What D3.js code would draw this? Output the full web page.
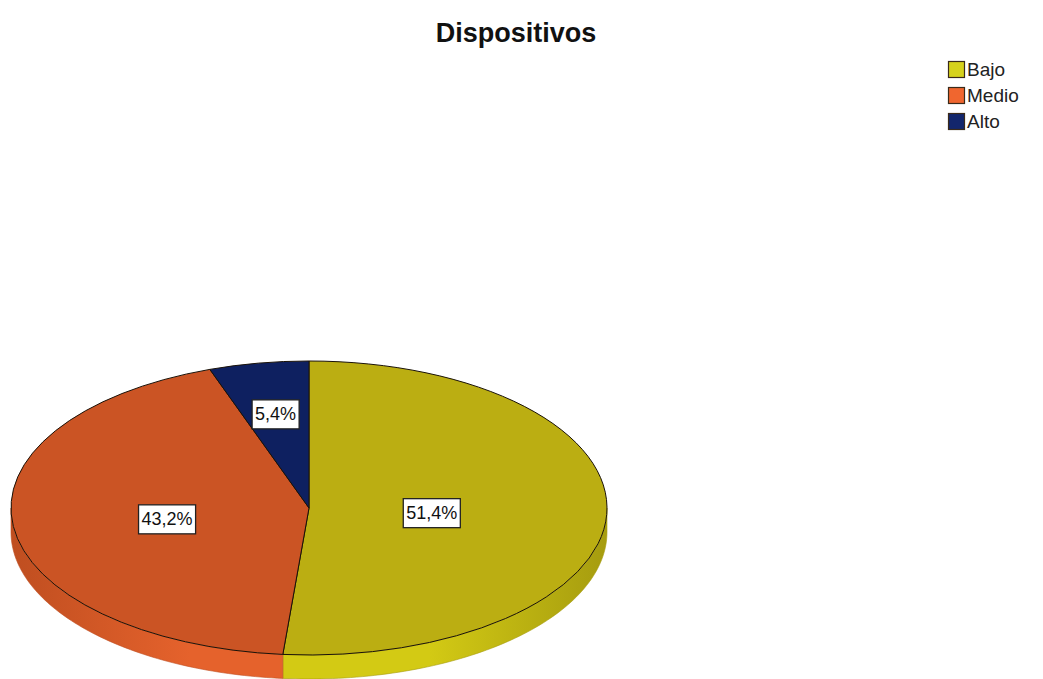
<!DOCTYPE html>
<html><head><meta charset="utf-8">
<script src="https://cdn.jsdelivr.net/npm/d3@7"></script>
<style>html,body{margin:0;padding:0;background:#fff;overflow:hidden}</style>
</head><body>
<svg id="chart" width="1043" height="679"></svg>
<script>
const title = "Dispositivos";
const categories = ["Bajo", "Medio", "Alto"];
const values = [51.4, 43.2, 5.4];
const labels = ["51,4%", "43,2%", "5,4%"];
const topColors = ["#bbae12", "#cb5424", "#0e2060"];
const sideColors = ["#d3ca14", "#e5622c", "#14276e"];
const sideDark = ["#a69c0f", "#bf4e20", "#0a1848"];
const legendColors = ["#d6d21c", "#f0662f", "#13266c"];

const svg = d3.select("#chart");
const W = 1043, H = 679;
const cx = 309, cy = 508, rx = 298, ry = 147, depth = 24;
const FONT = "'Liberation Sans', Arial, sans-serif";

svg.append("rect").attr("width", W).attr("height", H).attr("fill", "#fff");

svg.append("text").attr("x", 516).attr("y", 42).attr("text-anchor", "middle")
  .attr("font-family", FONT).attr("font-weight", "bold").attr("font-size", 27)
  .attr("fill", "#111").text(title);

const pie = d3.pie().sort(null).value(d => d)(values);
const pt = a => [cx + rx * Math.sin(a), cy - ry * Math.cos(a)];

const defs = svg.append("defs");
const g = svg.append("g");
pie.forEach((p, i) => {
  const a0 = Math.max(p.startAngle, Math.PI / 2), a1 = Math.min(p.endAngle, 3 * Math.PI / 2);
  if (a1 <= a0) return;
  const n = 80;
  const top = d3.range(n + 1).map(k => pt(a0 + (a1 - a0) * k / n));
  const bot = top.slice().reverse().map(([x, y]) => [x, y + depth]);
  const gid = "side" + i;
  const gr = defs.append("linearGradient").attr("id", gid)
    .attr("gradientUnits", "userSpaceOnUse")
    .attr("x1", cx - rx).attr("x2", cx + rx).attr("y1", 0).attr("y2", 0);
  gr.append("stop").attr("offset", "0%").attr("stop-color", sideDark[i]);
  gr.append("stop").attr("offset", "30%").attr("stop-color", sideColors[i]);
  gr.append("stop").attr("offset", "70%").attr("stop-color", sideColors[i]);
  gr.append("stop").attr("offset", "100%").attr("stop-color", sideDark[i]);
  g.append("path").attr("d", d3.line()(top.concat(bot)) + "Z")
    .attr("fill", `url(#${gid})`).attr("stroke", sideDark[i]).attr("stroke-width", 0.6);
});

const arc = d3.arc().innerRadius(0).outerRadius(rx);
const topG = svg.append("g").attr("transform", `translate(${cx},${cy}) scale(1,${ry / rx})`);
topG.selectAll("path").data(pie).join("path")
  .attr("d", arc)
  .attr("fill", (d, i) => topColors[i])
  .attr("stroke", "#1a1208").attr("stroke-width", 1)
  .attr("vector-effect", "non-scaling-stroke");

pie.forEach((p, i) => {
  const alpha = p.endAngle - p.startAngle;
  const mid = (p.startAngle + p.endAngle) / 2;
  const r = (2 / 3) * Math.sin(alpha / 2) / (alpha / 2);
  const x = cx + rx * r * Math.sin(mid), y = cy - ry * r * Math.cos(mid) + 2;
  const lg = svg.append("g");
  const t = lg.append("text").attr("x", x).attr("y", y + 6).attr("text-anchor", "middle")
    .attr("font-family", FONT).attr("font-size", 18).attr("fill", "#111").text(labels[i]);
  const bb = t.node().getBBox();
  lg.insert("rect", "text").attr("x", bb.x - 3).attr("y", y - 14).attr("width", bb.width + 6).attr("height", 29)
    .attr("fill", "#fff").attr("stroke", "#222").attr("stroke-width", 1.3);
});

const leg = svg.append("g").attr("transform", "translate(948,61)");
categories.forEach((c, i) => {
  const row = leg.append("g").attr("transform", `translate(0,${i * 26})`);
  row.append("rect").attr("x", 0.5).attr("y", 0.5).attr("width", 16).attr("height", 16)
    .attr("fill", legendColors[i]).attr("stroke", "#3a2a1a").attr("stroke-width", 1.2);
  row.append("text").attr("x", 19).attr("y", 15).attr("font-family", FONT)
    .attr("font-size", 19).attr("fill", "#222").text(c);
});
</script>
</body></html>
